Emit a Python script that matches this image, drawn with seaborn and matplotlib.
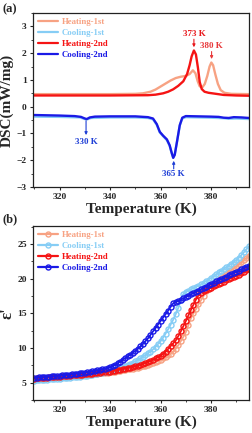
import numpy as np
import pandas as pd
import seaborn as sns
import matplotlib.pyplot as plt
from matplotlib.ticker import MultipleLocator

# ---- (a) DSC curves ----
h1_T = [310, 320, 330, 340, 350, 353, 356, 358, 361, 364, 366, 368, 370, 371.5, 372.8, 373.8, 374.7,
        375.5, 376.5, 377.5, 378.5, 379.4, 380.1, 380.8, 381.7, 382.7, 383.8, 385.3, 388, 395]
h1_dsc = [0.47, 0.47, 0.47, 0.47, 0.48, 0.50, 0.56, 0.64, 0.81, 0.98, 1.07, 1.12, 1.15, 1.22, 1.36, 1.25, 0.95,
          0.76, 0.72, 0.85, 1.15, 1.50, 1.65, 1.55, 1.20, 0.85, 0.62, 0.52, 0.48, 0.47]

h2_T = [310, 340, 355, 358, 361, 363, 365, 367, 369, 370.5, 371.5, 372.3, 373.2, 374, 374.8, 375.5,
        376.3, 377.4, 379, 382, 385, 390, 395]
h2_dsc = [0.42, 0.42, 0.43, 0.45, 0.50, 0.56, 0.65, 0.78, 0.95, 1.22, 1.55, 1.88, 2.10, 1.95, 1.45, 0.92,
          0.66, 0.56, 0.52, 0.48, 0.44, 0.42, 0.41]

c1_T = [310, 320, 328, 330, 331, 332.5, 340, 350, 355, 357, 358.5, 359.7, 361, 362.5, 363.6, 364.4, 365,
        365.6, 366.5, 367.6, 368.6, 370, 375, 380, 385, 387, 390, 395]
c1_dsc = [-0.37, -0.38, -0.40, -0.46, -0.47, -0.42, -0.40, -0.40, -0.42, -0.47, -0.68, -0.96, -1.10, -1.25,
          -1.46, -1.74, -1.89, -1.78, -1.30, -0.70, -0.44, -0.39, -0.40, -0.41, -0.43, -0.45, -0.44, -0.46]

c2_T = [310, 320, 326, 328.5, 330, 330.8, 332, 334, 340, 350, 355, 357, 358.5, 359.7, 361, 362.5, 363.6,
        364.4, 365, 365.6, 366.5, 367.6, 368.6, 370, 375, 380, 383, 385, 387, 389, 392, 395]
c2_dsc = [-0.31, -0.33, -0.35, -0.38, -0.44, -0.46, -0.40, -0.37, -0.36, -0.36, -0.39, -0.44, -0.65, -0.94,
          -1.08, -1.22, -1.44, -1.72, -1.91, -1.80, -1.31, -0.69, -0.41, -0.35, -0.36, -0.37, -0.38, -0.41,
          -0.42, -0.39, -0.40, -0.42]

# ---- (b) dielectric constant, 310-395 K every 1 K ----
temp = np.arange(310, 396)
eps_h1 = [5.50, 5.53, 5.56, 5.59, 5.62, 5.65, 5.68, 5.71, 5.74, 5.77,
          5.80, 5.83, 5.86, 5.89, 5.92, 5.95, 5.98, 6.01, 6.04, 6.07,
          6.10, 6.14, 6.18, 6.22, 6.26, 6.30, 6.34, 6.38, 6.42, 6.46,
          6.50, 6.56, 6.62, 6.68, 6.74, 6.80, 6.86, 6.92, 6.98, 7.04,
          7.10, 7.18, 7.26, 7.35, 7.45, 7.55, 7.66, 7.78, 7.95, 8.12,
          8.30, 8.50, 8.70, 8.95, 9.20, 9.52, 9.90, 10.40, 11.00, 11.62,
          12.30, 13.30, 14.30, 15.00, 15.60, 16.30, 16.90, 17.50, 18.20, 18.70,
          19.10, 19.36, 19.62, 19.88, 20.14, 20.40, 20.68, 20.96, 21.24, 21.52,
          21.80, 22.10, 22.40, 22.70, 23.00, 23.30]
eps_c1 = [5.30, 5.33, 5.36, 5.39, 5.42, 5.45, 5.48, 5.51, 5.54, 5.57,
          5.60, 5.63, 5.66, 5.70, 5.73, 5.77, 5.81, 5.85, 5.89, 5.93,
          5.98, 6.03, 6.08, 6.14, 6.20, 6.27, 6.34, 6.42, 6.50, 6.60,
          6.72, 6.82, 6.93, 7.05, 7.17, 7.30, 7.44, 7.59, 7.75, 7.92,
          8.10, 8.30, 8.50, 8.74, 9.00, 9.25, 9.50, 9.82, 10.20, 10.60,
          11.00, 11.50, 12.10, 12.72, 13.40, 14.10, 14.90, 15.80, 16.90, 17.80,
          18.10, 18.28, 18.46, 18.64, 18.82, 19.00, 19.22, 19.44, 19.66, 19.88,
          20.10, 20.36, 20.62, 20.90, 21.15, 21.40, 21.65, 21.90, 22.15, 22.42,
          22.70, 23.05, 23.42, 23.82, 24.25, 24.70]
eps_h2 = [5.60, 5.63, 5.66, 5.69, 5.72, 5.75, 5.78, 5.81, 5.84, 5.87,
          5.90, 5.93, 5.96, 5.99, 6.02, 6.05, 6.08, 6.11, 6.14, 6.17,
          6.20, 6.24, 6.28, 6.32, 6.36, 6.40, 6.44, 6.48, 6.52, 6.56,
          6.60, 6.67, 6.74, 6.81, 6.88, 6.95, 7.03, 7.11, 7.19, 7.27,
          7.35, 7.47, 7.60, 7.73, 7.86, 8.00, 8.16, 8.32, 8.50, 8.70,
          8.90, 9.18, 9.50, 9.88, 10.30, 10.70, 11.10, 11.72, 12.40, 13.15,
          13.90, 14.70, 15.50, 16.25, 17.00, 17.60, 18.00, 18.20, 18.37, 18.53,
          18.70, 18.88, 19.06, 19.24, 19.42, 19.60, 19.76, 19.92, 20.08, 20.24,
          20.40, 20.60, 20.80, 21.00, 21.20, 21.40]
eps_c2 = [5.70, 5.73, 5.76, 5.79, 5.82, 5.85, 5.88, 5.92, 5.95, 5.99,
          6.02, 6.06, 6.10, 6.14, 6.18, 6.22, 6.26, 6.31, 6.36, 6.41,
          6.46, 6.52, 6.58, 6.64, 6.71, 6.78, 6.86, 6.94, 7.02, 7.11,
          7.20, 7.38, 7.58, 7.80, 8.05, 8.30, 8.55, 8.80, 9.05, 9.32,
          9.60, 9.90, 10.25, 10.60, 11.00, 11.40, 11.90, 12.40, 12.90, 13.40,
          13.90, 14.40, 14.90, 15.40, 15.95, 16.45, 16.62, 16.80, 16.98, 17.16,
          17.35, 17.54, 17.73, 17.92, 18.11, 18.30, 18.49, 18.68, 18.87, 19.06,
          19.25, 19.43, 19.61, 19.79, 19.97, 20.15, 20.32, 20.49, 20.66, 20.83,
          21.00, 21.18, 21.36, 21.54, 21.72, 21.90]

labels = ['Heating-1st', 'Cooling-1st', 'Heating-2nd', 'Cooling-2nd']
colors = ['#f7a283', '#86cdf5', '#f51414', '#1a1ae6']

sns.set_style('ticks')
plt.rcParams['font.family'] = ['Liberation Serif', 'DejaVu Serif']
plt.rcParams['font.weight'] = 'bold'
plt.rcParams['axes.labelweight'] = 'bold'

fig = plt.figure(figsize=(2.52, 4.33), dpi=100)
ax1 = fig.add_axes([0.131, 0.568, 0.857, 0.402])
ax2 = fig.add_axes([0.131, 0.076, 0.857, 0.402])

dsc = [(h1_T, h1_dsc), (c1_T, c1_dsc), (h2_T, h2_dsc), (c2_T, c2_dsc)]
for (t, v), lab, col in zip(dsc, labels, colors):
    sns.lineplot(x=t, y=v, ax=ax1, color=col, label=lab, lw=1.7, sort=False, estimator=None)

eps = [eps_h1, eps_c1, eps_h2, eps_c2]
for v, lab, col in zip(eps, labels, colors):
    sns.lineplot(x=temp, y=v, ax=ax2, color=col, label=lab, lw=1.3, marker='o', markersize=3.6,
                 markerfacecolor='none', markeredgecolor=col, markeredgewidth=1.0,
                 sort=False, estimator=None)

# arrows + labels on DSC
def mark(ax, x, y0, y1, ty, txt, col):
    ax.annotate('', xy=(x, y1), xytext=(x, y0),
                arrowprops=dict(arrowstyle='-|>', color=col, lw=0.8, mutation_scale=4,
                                shrinkA=0, shrinkB=0))
    ax.text(x, ty, txt, color=col, ha='center', va='center', fontsize=6.5, fontweight='bold')

mark(ax1, 373.2, 2.52, 2.22, 2.70, '373 K', '#e8181c')
mark(ax1, 380.2, 2.06, 1.78, 2.25, '380 K', '#e8383a')
mark(ax1, 330.5, -0.52, -1.06, -1.31, '330 K', '#1f3fd6')
mark(ax1, 365.2, -2.32, -2.02, -2.52, '365 K', '#1f3fd6')

for ax in (ax1, ax2):
    ax.set_xlim(309.5, 395)
    ax.xaxis.set_major_locator(MultipleLocator(20))
    ax.xaxis.set_minor_locator(MultipleLocator(10))
    ax.tick_params(which='major', direction='out', length=2.5, width=0.8, labelsize=6.8, pad=2)
    ax.tick_params(which='minor', direction='out', length=1.5, width=0.6)
    for s in ax.spines.values():
        s.set_linewidth(0.9)
        s.set_color('#222222')
    ax.set_xlabel('Temperature (K)', fontsize=11, fontweight='bold', labelpad=1)
    leg = ax.legend(loc='upper left', frameon=False, fontsize=6.3, handlelength=2.3,
                    labelspacing=0.32, borderaxespad=0.25, handletextpad=0.4,
                    borderpad=0.3)
    for txt, col in zip(leg.get_texts(), colors):
        txt.set_color(col)
    for lh in leg.get_lines():
        lh.set_linewidth(1.6)
    sns.despine(ax=ax, top=False, right=False)

ax1.set_ylim(-3, 3.5)
ax1.yaxis.set_major_locator(MultipleLocator(1))
ax1.yaxis.set_minor_locator(MultipleLocator(0.5))
ax1.set_ylabel('DSC(mW/mg)', fontsize=11, fontweight='bold')
ax1.yaxis.set_label_coords(-0.088, 0.5)

ax2.set_ylim(2.5, 27.6)
ax2.yaxis.set_major_locator(MultipleLocator(5))
ax2.yaxis.set_minor_locator(MultipleLocator(2.5))
ax2.set_ylabel("ε'", fontsize=12, fontweight='bold')
ax2.yaxis.set_label_coords(-0.08, 0.5)

fig.text(0.008, 0.979, '(a)', fontsize=9, fontweight='bold', va='center', ha='left')
fig.text(0.008, 0.494, '(b)', fontsize=9, fontweight='bold', va='center', ha='left')

fig.savefig('out.png', dpi=100)
